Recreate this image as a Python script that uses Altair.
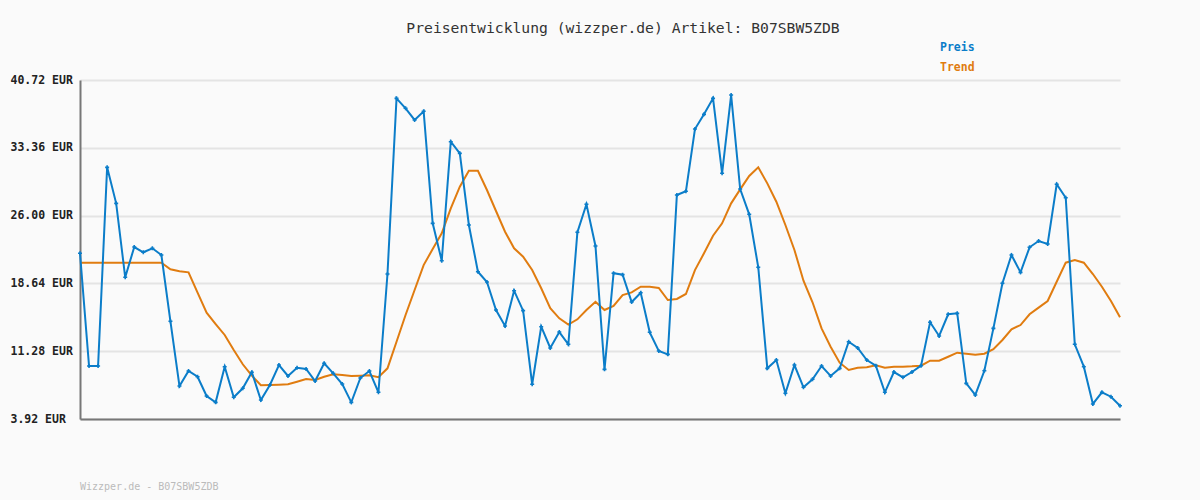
import altair as alt
import pandas as pd

TITLE = "Preisentwicklung (wizzper.de) Artikel: B07SBW5ZDB"
FOOTER = "Wizzper.de - B07SBW5ZDB"
SERIES = ["Preis", "Trend"]
COLORS = ["#0b7dc9", "#e07c10"]
Y_TICKS = [3.92, 11.28, 18.64, 26.00, 33.36, 40.72]

preis = [
    21.91, 9.67, 9.67, 31.24, 27.33, 19.30, 22.59, 22.02, 22.45, 21.72,
    14.53, 7.50, 9.13, 8.51, 6.42, 5.73, 9.60, 6.28, 7.25, 8.99,
    5.98, 7.61, 9.78, 8.59, 9.49, 9.35, 8.04, 9.97, 8.88, 7.72,
    5.73, 8.37, 9.13, 6.82, 19.66, 38.73, 37.65, 36.38, 37.32, 25.16,
    21.10, 34.02, 32.76, 24.98, 19.91, 18.79, 15.75, 14.02, 17.85, 15.68,
    7.69, 13.94, 11.63, 13.36, 12.03, 24.19, 27.23, 22.70, 9.31, 19.74,
    19.59, 16.62, 17.63, 13.33, 11.30, 10.94, 28.24, 28.64, 35.40, 36.99,
    38.73, 30.59, 39.09, 28.89, 26.14, 20.39, 9.42, 10.32, 6.71, 9.78,
    7.36, 8.23, 9.67, 8.59, 9.42, 12.31, 11.63, 10.32, 9.71, 6.82,
    9.02, 8.45, 9.02, 9.71, 14.42, 12.93, 15.29, 15.39, 7.79, 6.53,
    9.16, 13.76, 18.65, 21.72, 19.84, 22.56, 23.24, 22.92, 29.40, 27.94,
    12.03, 9.60, 5.55, 6.82, 6.34, 5.36,
]

trend = [
    20.89, 20.89, 20.89, 20.89, 20.89, 20.89, 20.89, 20.89, 20.89, 20.89,
    20.17, 19.95, 19.84, 17.63, 15.46, 14.23, 13.04, 11.41, 9.86, 8.62,
    7.58, 7.61, 7.65, 7.69, 7.97, 8.26, 8.15, 8.51, 8.77, 8.70,
    8.59, 8.62, 8.66, 8.45, 9.42, 12.31, 15.21, 17.92, 20.63, 22.37,
    24.08, 26.79, 29.14, 30.87, 30.87, 28.78, 26.50, 24.25, 22.45, 21.54,
    20.09, 18.11, 15.94, 14.85, 14.16, 14.74, 15.75, 16.65, 15.75, 16.19,
    17.38, 17.67, 18.28, 18.28, 18.14, 16.84, 16.95, 17.49, 20.09, 21.91,
    23.82, 25.16, 27.33, 28.85, 30.30, 31.24, 29.50, 27.51, 24.98, 22.27,
    18.93, 16.59, 13.76, 11.77, 10.03, 9.24, 9.49, 9.53, 9.75, 9.49,
    9.60, 9.60, 9.64, 9.71, 10.25, 10.25, 10.68, 11.12, 11.01, 10.90,
    11.01, 11.49, 12.50, 13.66, 14.12, 15.29, 16.01, 16.73, 18.82, 20.89,
    21.18, 20.89, 19.66, 18.28, 16.73, 14.96,
]

df = pd.DataFrame({"i": list(range(len(preis))), "Preis": preis, "Trend": trend})

W, H = 1040, 339
MONO = "DejaVu Sans Mono"

x_enc = alt.X(
    "i:Q",
    scale=alt.Scale(domain=[0, len(preis) - 1], nice=False, zero=False),
    axis=alt.Axis(labels=False, ticks=False, grid=False, title=None,
                  domainColor="#777777", domainWidth=2),
)
y_scale = alt.Scale(domain=[Y_TICKS[0], Y_TICKS[-1]], nice=False, zero=False)
y_axis = alt.Axis(
    values=Y_TICKS,
    labelExpr="format(datum.value, '.2f') + ' EUR'",
    title=None,
    ticks=False,
    tickSize=0,
    labelPadding=70,
    labelAlign="left",
    labelFont=MONO,
    labelFontSize=11.5,
    labelFontWeight="bold",
    labelColor="#222222",
    grid=True,
    gridColor="#e4e4e4",
    gridWidth=2,
    domainColor="#777777",
    domainWidth=2,
)

base = alt.Chart(df)

trend_line = base.mark_line(color=COLORS[1], strokeWidth=2).encode(
    x=x_enc, y=alt.Y("Trend:Q", scale=y_scale, axis=y_axis)
)
preis_line = base.mark_line(
    color=COLORS[0], strokeWidth=2,
    point=alt.OverlayMarkDef(shape="cross", size=16, color=COLORS[0], filled=True),
).encode(x=x_enc, y=alt.Y("Preis:Q", scale=y_scale, axis=y_axis))

title_txt = alt.Chart(pd.DataFrame({"t": [TITLE]})).mark_text(
    font=MONO, fontSize=14.7, color="#333333", align="center", baseline="middle"
).encode(text="t:N", x=alt.value(543), y=alt.value(-51))

legend_df = pd.DataFrame({"s": SERIES, "yy": [-32, -12]})
legend_txt = alt.Chart(legend_df).mark_text(
    font=MONO, fontSize=11.5, fontWeight="bold", align="left", baseline="middle"
).encode(
    text="s:N",
    x=alt.value(860),
    y=alt.Y("yy:Q", scale=None),
    color=alt.Color("s:N", scale=alt.Scale(domain=SERIES, range=COLORS), legend=None),
)

footer_txt = alt.Chart(pd.DataFrame({"t": [FOOTER]})).mark_text(
    font=MONO, fontSize=10, color="#bbbbbb", align="left", baseline="middle"
).encode(text="t:N", x=alt.value(0), y=alt.value(407))

chart = alt.layer(trend_line, preis_line, title_txt, legend_txt, footer_txt).properties(
    width=W, height=H,
    autosize=alt.AutoSizeParams(type="none"),
    padding={"left": 80, "top": 80, "right": 80, "bottom": 81},
    background="#fafafa",
).configure_view(stroke=None)

chart.save("out.html", embed_options={"renderer": "svg", "actions": False})
